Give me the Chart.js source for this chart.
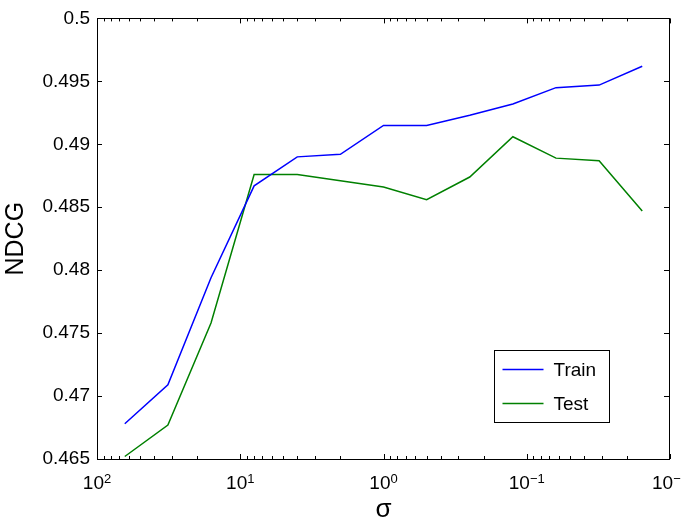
<!DOCTYPE html>
<html>
<head>
<meta charset="utf-8">
<script src="https://cdn.jsdelivr.net/npm/chart.js@4.4.1/dist/chart.umd.min.js"></script>
<style>
  html, body { margin: 0; padding: 0; background: #fff; }
  #wrap { width: 681px; height: 522px; position: relative; }
</style>
</head>
<body>
<div id="wrap"><canvas id="ndcgChart"></canvas></div>
<script>
// sigma values, halving each step (x axis is log scale, reversed)
const sigma = [64, 32, 16, 8, 4, 2, 1, 0.5, 0.25, 0.125, 0.0625, 0.03125, 0.015625];
const trainNdcg = [0.4678, 0.4709, 0.4794, 0.4867, 0.4890, 0.4892, 0.4915, 0.4915, 0.4923, 0.4932, 0.4945, 0.4947, 0.4962];
const testNdcg = [0.4652, 0.4677, 0.4758, 0.4876, 0.4876, 0.4871, 0.4866, 0.4856, 0.4874, 0.4906, 0.4889, 0.4887, 0.4847];
const seriesNames = ['Train', 'Test'];
const seriesColors = ['#0000ff', '#008000'];

const yTicks = [0.465, 0.47, 0.475, 0.48, 0.485, 0.49, 0.495, 0.5];
const xMajor = [100, 10, 1, 0.1, 0.01];
const xExponents = ['2', '1', '0', '\u22121', '\u22122'];

const FONT = "'Liberation Sans', Helvetica, Arial, sans-serif";

// matlab-ish frame, inward ticks, 10^k labels and the boxed legend
const matlabAxes = {
    id: 'matlabAxes',
    afterDraw(chart) {
        const ctx = chart.ctx;
        const { left, right, top, bottom } = chart.chartArea;
        const xs = chart.scales.x;
        const ys = chart.scales.y;
        ctx.save();
        ctx.strokeStyle = '#000';
        ctx.lineWidth = 1;

        // frame
        ctx.strokeRect(Math.round(left) + 0.5, Math.round(top) + 0.5,
            Math.round(right - left) - 1, Math.round(bottom - top));

        ctx.beginPath();
        // y ticks, both sides
        ys.ticks.forEach(t => {
            const y = Math.round(ys.getPixelForValue(t.value)) + 0.5;
            ctx.moveTo(left, y); ctx.lineTo(left + 5, y);
            ctx.moveTo(right, y); ctx.lineTo(right - 6, y);
        });
        // x major + minor ticks, top and bottom
        for (let k = -2; k <= 2; k++) {
            for (let m = 1; m <= 9; m++) {
                const v = m * Math.pow(10, k);
                if (v > 100 || v < 0.01) continue;
                const len = m === 1 ? 5 : 3;
                const x = Math.round(xs.getPixelForValue(v)) + 0.5;
                ctx.moveTo(x, bottom); ctx.lineTo(x, bottom - len);
                ctx.moveTo(x, top); ctx.lineTo(x, top + len);
            }
        }
        ctx.stroke();

        // x tick labels with superscript exponents
        ctx.fillStyle = '#000';
        ctx.textBaseline = 'alphabetic';
        ctx.textAlign = 'left';
        xMajor.forEach((v, i) => {
            const x = xs.getPixelForValue(v);
            ctx.font = '19px ' + FONT;
            const wb = ctx.measureText('10').width;
            ctx.font = '13px ' + FONT;
            const we = ctx.measureText(xExponents[i]).width;
            const x0 = x - (wb + we) / 2;
            ctx.font = '19px ' + FONT;
            ctx.fillText('10', x0, bottom + 30);
            ctx.font = '13px ' + FONT;
            ctx.fillText(xExponents[i], x0 + wb, bottom + 24);
        });

        // legend box
        const bx = Math.round(right) - 175.5, by = Math.round(bottom) - 108.5;
        const bw = 115, bh = 72;
        ctx.fillStyle = '#fff';
        ctx.fillRect(bx, by, bw, bh);
        ctx.strokeRect(bx, by, bw, bh);
        ctx.font = '19px ' + FONT;
        ctx.textBaseline = 'middle';
        chart.data.datasets.forEach((ds, i) => {
            const ly = by + 19 + i * 34;
            ctx.strokeStyle = ds.borderColor;
            ctx.lineWidth = 1.4;
            ctx.beginPath();
            ctx.moveTo(bx + 8, ly); ctx.lineTo(bx + 49, ly);
            ctx.stroke();
            ctx.fillStyle = '#000';
            ctx.fillText(ds.label, bx + 59, ly + 1);
        });
        ctx.restore();
    }
};

const datasets = [trainNdcg, testNdcg].map((vals, i) => ({
    label: seriesNames[i],
    data: sigma.map((s, j) => ({ x: s, y: vals[j] })),
    borderColor: seriesColors[i],
    backgroundColor: seriesColors[i],
    borderWidth: 1.5,
    pointRadius: 0,
    tension: 0,
    fill: false
}));

new Chart(document.getElementById('ndcgChart').getContext('2d'), {
    type: 'line',
    data: { datasets },
    options: {
        responsive: true,
        maintainAspectRatio: false,
        animation: false,
        devicePixelRatio: 1,
        layout: { padding: { left: 0, top: 12, right: 11, bottom: 0 } },
        plugins: {
            legend: { display: false },
            tooltip: { enabled: false }
        },
        scales: {
            x: {
                type: 'logarithmic',
                min: 0.01,
                max: 100,
                reverse: true,
                afterFit: s => { s.height = 63; },
                afterBuildTicks: s => { s.ticks = xMajor.map(v => ({ value: v })); },
                grid: { display: false, drawTicks: false },
                border: { display: false },
                ticks: { display: false },
                title: {
                    display: true,
                    text: '\u03c3',
                    color: '#000',
                    font: { family: FONT, size: 26, lineHeight: 1 },
                    padding: { top: 0, bottom: -1 }
                }
            },
            y: {
                min: 0.465,
                max: 0.5,
                afterFit: s => { s.width = 97; },
                afterBuildTicks: s => { s.ticks = yTicks.map(v => ({ value: v })); },
                grid: { display: false, drawTicks: false },
                border: { display: false },
                ticks: {
                    color: '#000',
                    font: { family: FONT, size: 19 },
                    padding: 7,
                    callback: v => String(+v.toFixed(3))
                },
                title: {
                    display: true,
                    text: 'NDCG',
                    color: '#000',
                    font: { family: FONT, size: 25, lineHeight: 1 },
                    padding: { top: 4, bottom: 0 }
                }
            }
        }
    },
    plugins: [matlabAxes]
});
</script>
</body>
</html>
